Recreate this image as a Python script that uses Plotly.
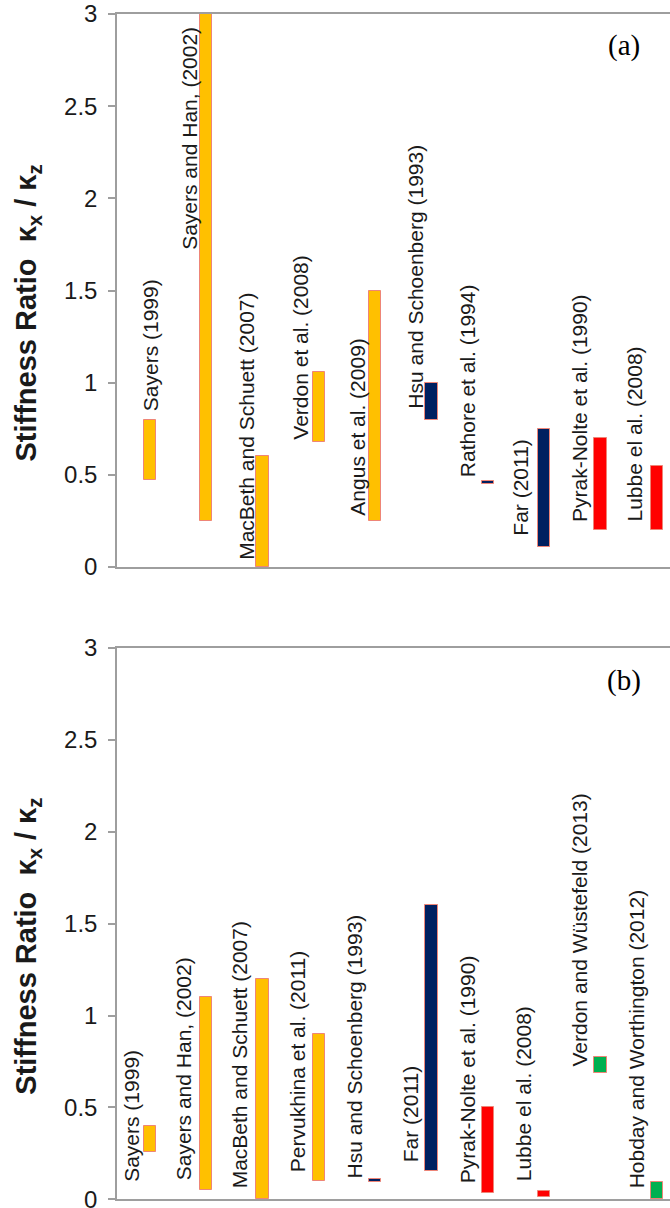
import plotly.graph_objects as go

# ---- data: stiffness-ratio ranges (kx/kz) reported by each study ----
studies_a = ["Sayers (1999)", "Sayers and Han, (2002)", "MacBeth and Schuett (2007)",
             "Verdon et al. (2008)", "Angus et al. (2009)", "Hsu and Schoenberg (1993)",
             "Rathore et al. (1994)", "Far (2011)", "Pyrak-Nolte et al. (1990)",
             "Lubbe el al. (2008)"]
low_a = [0.47, 0.25, 0.00, 0.68, 0.25, 0.80, 0.449, 0.11, 0.20, 0.20]
high_a = [0.80, 3.00, 0.60, 1.06, 1.50, 1.00, 0.467, 0.75, 0.70, 0.55]
group_a = ["I", "I", "I", "I", "I", "II", "II", "II", "III", "III"]

studies_b = ["Sayers (1999)", "Sayers and Han, (2002)", "MacBeth and Schuett (2007)",
             "Pervukhina et al. (2011)", "Hsu and Schoenberg (1993)", "Far (2011)",
             "Pyrak-Nolte et al. (1990)", "Lubbe el al. (2008)",
             "Verdon and Wüstefeld (2013)", "Hobday and Worthington (2012)"]
low_b = [0.26, 0.05, 0.00, 0.10, 0.094, 0.155, 0.035, 0.015, 0.69, 0.00]
high_b = [0.40, 1.10, 1.20, 0.90, 0.112, 1.60, 0.50, 0.045, 0.775, 0.095]
group_b = ["I", "I", "I", "I", "II", "II", "III", "III", "IV", "IV"]

y_ticks = [0, 0.5, 1, 1.5, 2, 2.5, 3]

# ---- label placement (offset from bar centre, bottom of rotated text) ----
label_dx_a = [0.00, -0.30, -0.30, -0.32, -0.31, -0.29, -0.37, -0.41, -0.36, -0.40]
label_y_a = [0.845, 1.72, 0.04, 0.69, 0.28, 0.86, 0.49, 0.17, 0.245, 0.245]
label_dx_b = [-0.32, -0.40, -0.42, -0.39, -0.37, -0.37, -0.36, -0.36, -0.38, -0.36]
label_y_b = [0.095, 0.105, 0.062, 0.15, 0.115, 0.20, 0.085, 0.10, 0.72, 0.062]

# ---- styling ----
fill = {"I": "#FFC000", "II": "#002060", "III": "#FF0000", "IV": "#00B050"}
edge = "#EE8577"
axis_grey = "#9E9E9E"
text_col = "#1A1A1A"
sans = "Liberation Sans, Arial, sans-serif"
serif = "Liberation Serif, Times New Roman, serif"

W, H = 670, 1208
ML = 117
x_range = [-0.586, 9.236]
dom_a = [(H - 567) / H, (H - 14) / H]
dom_b = [(H - 1199.3) / H, (H - 648) / H]

fig = go.Figure()


def add_panel(studies, low, high, group, xa, ya):
    xs = list(range(len(studies)))
    fig.add_trace(go.Bar(
        x=xs, y=[h - l for l, h in zip(low, high)], base=low,
        width=0.22, xaxis=xa, yaxis=ya,
        marker=dict(color=[fill[g] for g in group],
                    line=dict(color=edge, width=1)),
        hoverinfo="skip", showlegend=False,
    ))


add_panel(studies_a, low_a, high_a, group_a, "x", "y")
add_panel(studies_b, low_b, high_b, group_b, "x2", "y2")

annotations = []


def add_labels(studies, dx, ly, xr, yr):
    for i, name in enumerate(studies):
        annotations.append(dict(
            x=i + dx[i], y=ly[i], xref=xr, yref=yr, text=name,
            textangle=-90, showarrow=False, xanchor="center", yanchor="bottom",
            font=dict(family=sans, size=21, color=text_col),
            borderpad=0, borderwidth=0,
        ))


add_labels(studies_a, label_dx_a, label_y_a, "x", "y")
add_labels(studies_b, label_dx_b, label_y_b, "x2", "y2")

title_txt = "<b>Stiffness Ratio  \u03ba<sub>x</sub> / \u03ba<sub>z</sub></b>"
for yc in [(H - 313.5) / H, (H - 946.7) / H]:
    annotations.append(dict(
        x=(28 - ML) / (W - ML), y=yc, xref="paper", yref="paper",
        text=title_txt, textangle=-90, showarrow=False,
        xanchor="center", yanchor="middle",
        font=dict(family=sans, size=29, color=text_col),
    ))

for tag, yc in [("(a)", (H - 45) / H), ("(b)", (H - 680) / H)]:
    annotations.append(dict(
        x=(624 - ML) / (W - ML), y=yc, xref="paper", yref="paper",
        text=tag, showarrow=False, xanchor="center", yanchor="middle",
        font=dict(family=serif, size=29, color="#000000"),
    ))

xaxis_style = dict(range=x_range, showline=True, linecolor=axis_grey, linewidth=1.5,
                   mirror=True, showticklabels=False, ticks="", showgrid=False,
                   zeroline=False, fixedrange=True)
yaxis_style = dict(range=[0, 3], tickvals=y_ticks, showline=True, linecolor=axis_grey,
                   linewidth=1.5, ticks="outside", ticklen=7, tickcolor=axis_grey,
                   tickwidth=1.5, showgrid=False, zeroline=False, automargin=False,
                   tickfont=dict(family=sans, size=24, color=text_col),
                   ticklabelstandoff=6, ticklabeloverflow="allow")

fig.update_layout(
    width=W, height=H,
    margin=dict(l=ML, r=0, t=0, b=0),
    paper_bgcolor="white", plot_bgcolor="white",
    xaxis=dict(domain=[0, 1], anchor="y", **xaxis_style),
    yaxis=dict(domain=dom_a, anchor="x", **yaxis_style),
    xaxis2=dict(domain=[0, 1], anchor="y2", **xaxis_style),
    yaxis2=dict(domain=dom_b, anchor="x2", **yaxis_style),
    annotations=annotations,
    bargap=0,
)

fig.write_html("out.html")
